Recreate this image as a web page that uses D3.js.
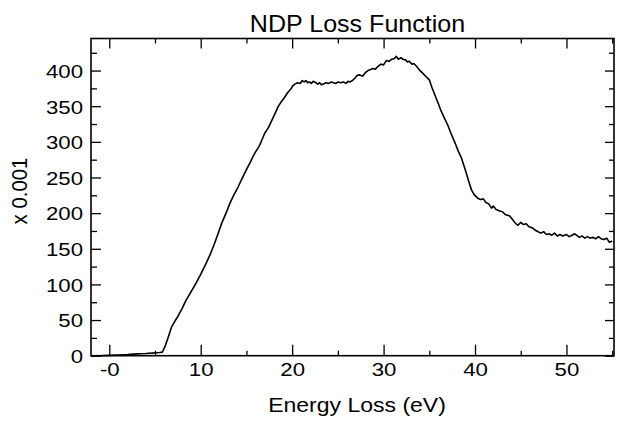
<!DOCTYPE html>
<html>
<head>
<meta charset="utf-8">
<script src="https://cdn.jsdelivr.net/npm/d3@7"></script>
<style>
  body { margin: 0; background: #fff; }
  svg { display: block; font-family: "Liberation Sans", Arial, sans-serif; }
</style>
</head>
<body>
<svg id="plot" width="620" height="421"></svg>
<script>
// energy loss (eV)
const energy = [-2, -1, 0, 1, 2, 3, 4, 5, 5.5, 5.8, 6.1, 6.5, 6.8, 7.2, 7.5, 8.0, 8.4, 9.0, 9.5, 10.0,
  10.6, 11.0, 11.5, 12.0, 12.3, 12.8, 13.2, 13.6, 14.1, 14.5, 15.0, 15.4, 15.7, 16.0, 16.4, 16.7, 17.0, 17.4, 17.7, 18.1,
  18.45, 18.8, 19.2, 19.5, 19.9, 20.1, 20.3, 20.6, 20.9, 21.1, 21.3, 21.5, 21.7, 21.9, 22.1, 22.3, 22.6, 22.8, 23.0, 23.2,
  23.4, 23.7, 24.0, 24.3, 24.5, 24.8, 25.0, 25.3, 25.6, 25.9, 26.1, 26.3, 26.6, 26.9, 27.1, 27.4, 27.7, 28.0, 28.3, 28.5,
  28.8, 29.1, 29.4, 29.7, 30.0, 30.3, 30.6, 30.9, 31.2, 31.4, 31.6, 31.9, 32.1, 32.4, 32.6, 32.8, 33.1, 33.3, 33.6, 33.9,
  34.3, 34.6, 35.0, 35.3, 35.6, 36.0, 36.3, 36.7, 37.0, 37.4, 37.8, 38.2, 38.5, 38.8, 39.0, 39.3, 39.6, 39.9, 40.3, 40.6,
  40.9, 41.2, 41.5, 41.8, 42.0, 42.3, 42.7, 43.0, 43.3, 43.8, 44.1, 44.4, 44.7, 45.0, 45.3, 45.6, 45.9, 46.3, 46.6, 46.9,
  47.2, 47.5, 47.8, 48.1, 48.4, 48.7, 49.0, 49.3, 49.6, 50.0, 50.3, 50.6, 50.9, 51.1, 51.4, 51.7, 52.0, 52.3, 52.6, 52.9,
  53.2, 53.5, 53.8, 54.1, 54.4, 54.7, 55.0];
// loss function (x 0.001)
const loss = [0, 0, 0.5, 1, 1.5, 2.5, 3, 4, 4.5, 5, 13, 28, 40, 49, 55, 67, 78, 91, 102, 114,
  130, 141, 157, 175, 186, 201, 214, 225, 237, 248, 261, 271, 279, 286, 294, 303, 312, 320, 328, 339,
  349, 356, 363, 369, 375, 379, 381, 383, 382, 386, 384, 386, 383, 384, 382, 385, 383, 381, 383, 380,
  381, 383, 382, 384, 383, 382, 384, 383, 384, 382, 385, 384, 386, 390, 393, 394, 392, 397, 400, 401,
  403, 402, 406, 409, 408, 414, 413, 416, 417, 420, 416, 418, 416, 415, 412, 413, 409, 410, 406, 401,
  396, 392, 387, 376, 366, 353, 343, 332, 324, 311, 299, 286, 278, 266, 258, 245, 233, 226, 221, 219,
  220, 215, 213, 207, 210, 205, 203, 202, 198, 196, 191, 186, 183, 187, 184, 185, 181, 179, 176, 174,
  172, 174, 170, 171, 169, 172, 168, 170, 168, 170, 167, 169, 171, 169, 166, 168, 165, 167, 165, 166,
  164, 167, 164, 163, 165, 159, 161];

const xMajor = [0, 10, 20, 30, 40, 50];
const xMajorLabels = ["-0", "10", "20", "30", "40", "50"];
const xMinor = [5, 15, 25, 35, 45, 55];
const yMajor = [0, 50, 100, 150, 200, 250, 300, 350, 400];
const yMinor = [25, 75, 125, 175, 225, 275, 325, 375, 425];

let svg = d3.select("#plot");

// plot frame bounds
let frame_left = 91, frame_right = 614, frame_top = 38.5, frame_bottom = 355.7;
let sx = 1.17; // the original lettering is a bit wider than Arial

let x_scale = d3.scaleLinear([-2, 55.2], [frame_left, frame_right]);
let y_scale = d3.scaleLinear([0, 445], [frame_bottom, frame_top]);

// inward ticks on all four sides
function addAxis(axis, transform) {
  let g = svg.append("g").attr("transform", transform).call(axis);
  g.select(".domain").remove();
  g.selectAll("line").attr("stroke", "#000").attr("stroke-width", 1.3);
  return g;
}

let xb = addAxis(d3.axisBottom(x_scale).tickValues(xMajor).tickSize(-11).tickPadding(7)
  .tickFormat((d, i) => xMajorLabels[i]), `translate(0,${frame_bottom})`);
addAxis(d3.axisBottom(x_scale).tickValues(xMinor).tickSize(-5).tickFormat(""), `translate(0,${frame_bottom})`);
addAxis(d3.axisTop(x_scale).tickValues(xMajor).tickSize(-10).tickFormat(""), `translate(0,${frame_top})`);
addAxis(d3.axisTop(x_scale).tickValues(xMinor).tickSize(-5).tickFormat(""), `translate(0,${frame_top})`);

let yl = addAxis(d3.axisLeft(y_scale).tickValues(yMajor).tickSize(-10).tickPadding(8), `translate(${frame_left},0)`);
addAxis(d3.axisLeft(y_scale).tickValues(yMinor).tickSize(-6).tickFormat(""), `translate(${frame_left},0)`);
addAxis(d3.axisRight(y_scale).tickValues(yMajor).tickSize(-9).tickFormat(""), `translate(${frame_right},0)`);
addAxis(d3.axisRight(y_scale).tickValues(yMinor).tickSize(-5).tickFormat(""), `translate(${frame_right},0)`);

xb.selectAll("text").attr("fill", "#000").attr("font-size", 19)
  .attr("transform", `scale(${sx},1)`);
yl.selectAll("text").attr("fill", "#000").attr("font-size", 19)
  .attr("x", -8 / sx).attr("dy", "0.36em")
  .attr("transform", `scale(${sx},1)`);
svg.selectAll("g").attr("font-family", null);

// frame
svg.append("rect")
  .attr("x", frame_left).attr("y", frame_top)
  .attr("width", frame_right - frame_left).attr("height", frame_bottom - frame_top)
  .attr("fill", "none").attr("stroke", "#000").attr("stroke-width", 1.6);

// the curve
let line = d3.line()
  .x((d, i) => x_scale(energy[i]))
  .y((d, i) => y_scale(loss[i]));

svg.append("path")
  .datum(loss)
  .attr("d", line)
  .attr("fill", "none")
  .attr("stroke", "#000")
  .attr("stroke-width", 1.6)
  .attr("stroke-linejoin", "round");

// title and axis labels
svg.append("text")
  .attr("text-anchor", "middle")
  .attr("font-size", 23)
  .attr("transform", `translate(357.5,31.5) scale(1.09,1)`)
  .text("NDP Loss Function");

svg.append("text")
  .attr("text-anchor", "middle")
  .attr("font-size", 20)
  .attr("transform", `translate(357,411.5) scale(1.15,1)`)
  .text("Energy Loss (eV)");

svg.append("text")
  .attr("text-anchor", "middle")
  .attr("font-size", 20)
  .attr("transform", `translate(26.5,191) rotate(-90) scale(1.02,1.12)`)
  .text("x 0.001");
</script>
</body>
</html>
